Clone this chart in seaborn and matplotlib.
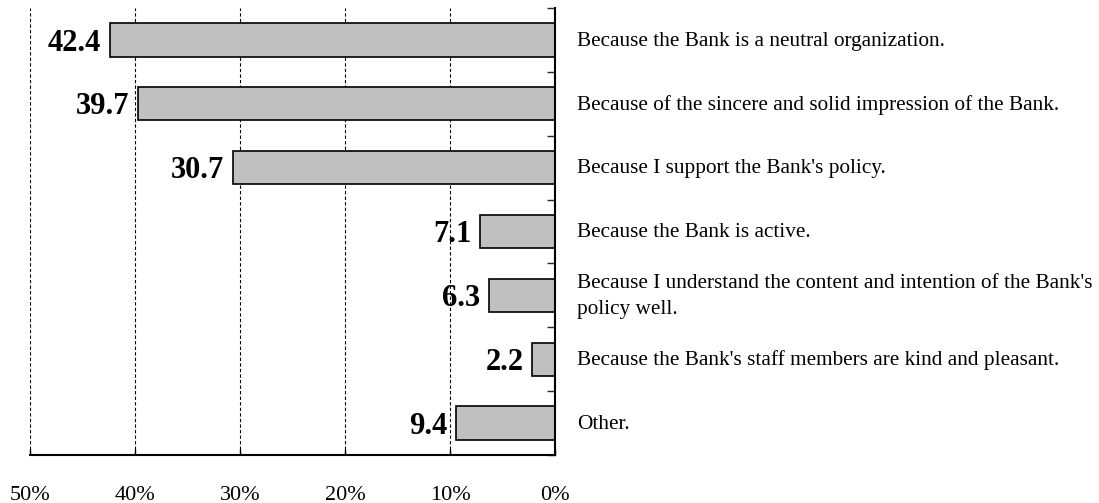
import numpy as np
import pandas as pd
import matplotlib
matplotlib.use("Agg")
import matplotlib.pyplot as plt
from matplotlib.font_manager import FontProperties
import seaborn as sns

reasons = [
    "Because the Bank is a neutral organization.",
    "Because of the sincere and solid impression of the Bank.",
    "Because I support the Bank's policy.",
    "Because the Bank is active.",
    "Because I understand the content and intention of the Bank's\npolicy well.",
    "Because the Bank's staff members are kind and pleasant.",
    "Other.",
]
shares = [42.4, 39.7, 30.7, 7.1, 6.3, 2.2, 9.4]
xticks = [50, 40, 30, 20, 10, 0]
xtick_labels = ["50%", "40%", "30%", "20%", "10%", "0%"]

sns.set_theme(style="white")
plt.rcParams["font.family"] = ["Liberation Serif", "DejaVu Serif"]

bold_font = FontProperties(family="Liberation Serif", weight="bold", size=22)

df = pd.DataFrame({"reason": reasons, "share": shares})

fig = plt.figure(figsize=(10.99, 5.03), dpi=100)
ax = fig.add_axes([30 / 1099, 1 - 455 / 503, 525 / 1099, 447 / 503])

sns.barplot(data=df, x="share", y="reason", orient="h", color="#c0c0c0",
            edgecolor="black", linewidth=1.2, width=0.52, saturation=1, ax=ax)

ax.set_xlim(50, 0)
ax.set_ylim(len(reasons) - 0.5, -0.5)

for x in [50, 40, 30, 20, 10]:
    ax.axvline(x, color="black", linestyle=(0, (3, 2)), linewidth=0.8, zorder=0)

for i, v in enumerate(shares):
    ax.text(v + 0.8, i + 0.05, f"{v:.1f}", ha="right", va="center",
            fontproperties=bold_font, color="black")

for i, r in enumerate(reasons):
    ax.text(-2.1, i + 0.02, r, ha="left", va="center", fontsize=15.3, color="black",
            linespacing=1.45, clip_on=False)

ax.set_xticks(xticks)
ax.set_xticklabels(xtick_labels, fontsize=16)
ax.tick_params(axis="x", direction="in", length=4, width=1, bottom=True,
               pad=22, colors="black")

ax.yaxis.tick_right()
ax.set_yticks(np.arange(-0.5, len(reasons), 1.0))
ax.set_yticklabels([])
ax.tick_params(axis="y", direction="in", length=6, width=1, right=True, left=False)

ax.set_xlabel("")
ax.set_ylabel("")
for side in ["top", "left"]:
    ax.spines[side].set_visible(False)
for side in ["bottom", "right"]:
    ax.spines[side].set_color("black")
    ax.spines[side].set_linewidth(1.5)

fig.savefig("out.png", dpi=100)
